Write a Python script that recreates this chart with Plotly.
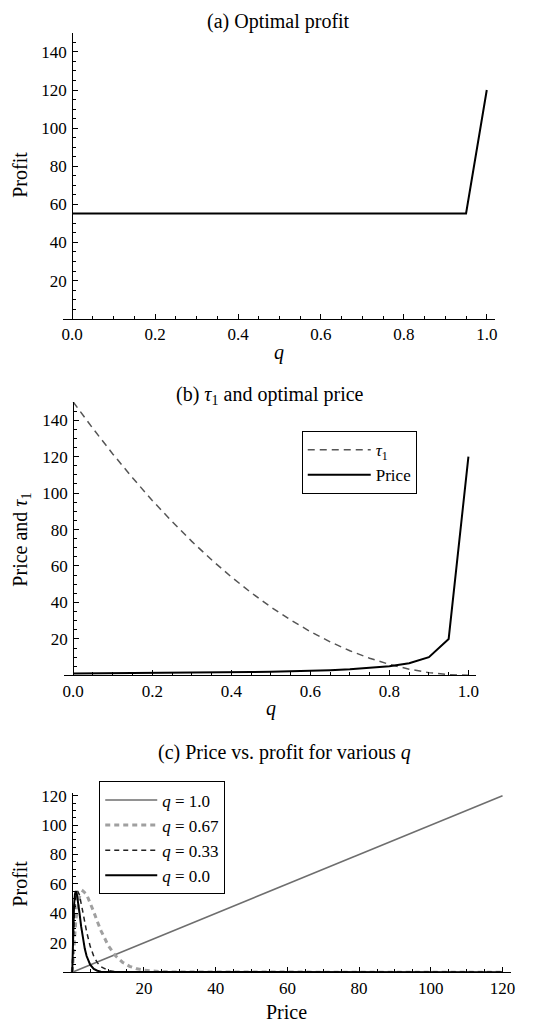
import plotly.graph_objects as go

W, H = 559, 1025
FONT = "Liberation Serif"

# ---------------- data ----------------
# (a) optimal profit vs q
q_grid = [0.0, 0.05, 0.1, 0.15, 0.2, 0.25, 0.3, 0.35, 0.4, 0.45, 0.5,
          0.55, 0.6, 0.65, 0.7, 0.75, 0.8, 0.85, 0.9, 0.95, 1.0]
opt_profit = [55.2, 55.2, 55.2, 55.2, 55.2, 55.2, 55.2, 55.2, 55.2, 55.2, 55.2,
              55.2, 55.2, 55.2, 55.2, 55.2, 55.2, 55.2, 55.2, 55.2, 120.0]

# (b) tau1 and optimal price vs q
tau1 = [150.0, 135.4, 121.5, 108.4, 96.0, 84.4, 73.5, 63.4, 54.0, 45.4, 37.5,
        30.4, 24.0, 18.4, 13.5, 9.4, 6.0, 3.4, 1.5, 0.4, 0.0]
opt_price = [1.0, 1.05, 1.11, 1.18, 1.25, 1.33, 1.43, 1.54, 1.67, 1.82, 2.0,
             2.22, 2.5, 2.86, 3.33, 4.0, 5.0, 6.67, 10.0, 20.0, 120.0]

# (c) price vs profit for various q
price_q100 = [0, 120]
profit_q100 = [0, 120]
price_q067 = [0, 0.5, 1, 2, 3, 4, 5, 6, 7, 8, 10, 12, 14, 16, 18, 20, 25, 30, 120]
profit_q067 = [0, 21.0, 35.6, 51.2, 55.2, 52.9, 47.5, 41.0, 34.4, 28.3, 18.3,
               11.3, 6.8, 4.0, 2.3, 1.4, 0.3, 0.1, 0]
price_q033 = [0, 0.25, 0.5, 1, 1.5, 2, 2.5, 3, 4, 5, 6, 7, 8, 10, 12, 15, 120]
profit_q033 = [0, 21.3, 35.9, 51.4, 55.2, 52.6, 47.1, 40.4, 27.6, 17.6, 10.8,
               6.5, 3.8, 1.2, 0.4, 0.1, 0]
price_q000 = [0, 0.25, 0.5, 0.75, 1, 1.25, 1.5, 2, 2.5, 3, 3.5, 4, 5, 6, 7, 8, 10, 120]
profit_q000 = [0, 29.2, 45.5, 53.1, 55.2, 53.7, 50.2, 40.6, 30.8, 22.4, 15.9,
               11.0, 5.1, 2.2, 1.0, 0.4, 0.1, 0]

q_ticks = [0.0, 0.2, 0.4, 0.6, 0.8, 1.0]
q_ticktext = ["0.0", "0.2", "0.4", "0.6", "0.8", "1.0"]
y_ticks_ab = [20, 40, 60, 80, 100, 120, 140]
price_ticks = [20, 40, 60, 80, 100, 120]
y_ticks_c = [20, 40, 60, 80, 100, 120]

# ---------------- helpers ----------------
def px(x):
    return x / W

def py(y):
    return 1 - y / H

tickfont = dict(family=FONT, size=17, color="black")

def xaxis_cfg(dom, rng, tickvals, ticktext, minor_dtick, yname):
    return dict(domain=[px(dom[0]), px(dom[1])], range=rng, anchor=yname,
                showline=True, linecolor="black", linewidth=1,
                ticks="inside", ticklen=5, tickwidth=1, tickcolor="black",
                tickmode="array", tickvals=tickvals, ticktext=ticktext,
                minor=dict(ticks="inside", ticklen=3, tickwidth=1, tickcolor="black",
                           tickmode="linear", tick0=0, dtick=minor_dtick, showgrid=False),
                showgrid=False, zeroline=False, tickfont=tickfont,
                ticklabelstandoff=0, fixedrange=True)

def yaxis_cfg(dom, rng, tickvals, pos):
    return dict(domain=[py(dom[1]), py(dom[0])], range=rng, anchor="free",
                position=px(pos),
                showline=True, linecolor="black", linewidth=1,
                ticks="inside", ticklen=5, tickwidth=1, tickcolor="black",
                tickmode="array", tickvals=tickvals,
                minor=dict(ticks="inside", ticklen=3, tickwidth=1, tickcolor="black",
                           tickmode="linear", tick0=0, dtick=5, showgrid=False),
                showgrid=False, zeroline=False, tickfont=tickfont,
                ticklabelstandoff=2, fixedrange=True)

fig = go.Figure()

# (a)
fig.add_trace(go.Scatter(x=q_grid, y=opt_profit, mode="lines",
                         line=dict(color="black", width=2), showlegend=False,
                         xaxis="x", yaxis="y"))
# (b)
fig.add_trace(go.Scatter(x=q_grid, y=tau1, mode="lines", name="<i>τ</i><sub>1</sub>",
                         line=dict(color="#555555", width=1.5, dash="7px,5px"),
                         xaxis="x2", yaxis="y2", legend="legend"))
fig.add_trace(go.Scatter(x=q_grid, y=opt_price, mode="lines", name="Price",
                         line=dict(color="black", width=2),
                         xaxis="x2", yaxis="y2", legend="legend"))
# (c)
fig.add_trace(go.Scatter(x=price_q100, y=profit_q100, mode="lines", name="<i>q</i> = 1.0",
                         line=dict(color="#6e6e6e", width=1.5),
                         xaxis="x3", yaxis="y3", legend="legend2"))
fig.add_trace(go.Scatter(x=price_q067, y=profit_q067, mode="lines", name="<i>q</i> = 0.67",
                         line=dict(color="#a0a0a0", width=3, dash="5px,4px"),
                         xaxis="x3", yaxis="y3", legend="legend2"))
fig.add_trace(go.Scatter(x=price_q033, y=profit_q033, mode="lines", name="<i>q</i> = 0.33",
                         line=dict(color="#222222", width=1.5, dash="5px,4px"),
                         xaxis="x3", yaxis="y3", legend="legend2"))
fig.add_trace(go.Scatter(x=price_q000, y=profit_q000, mode="lines", name="<i>q</i> = 0.0",
                         line=dict(color="black", width=2),
                         xaxis="x3", yaxis="y3", legend="legend2"))

legend_common = dict(bordercolor="black", borderwidth=1, bgcolor="white",
                     font=dict(family=FONT, size=17, color="black"),
                     xanchor="left", yanchor="top", tracegroupgap=0)

fig.update_layout(
    width=W, height=H,
    margin=dict(l=0, r=0, t=0, b=0),
    paper_bgcolor="white", plot_bgcolor="white",
    font=dict(family=FONT, size=17, color="black"),
    xaxis=xaxis_cfg((62, 498), [-0.0215, 1.019], q_ticks, q_ticktext, 0.05, "y"),
    yaxis=yaxis_cfg((27, 314.5), [0, 150], y_ticks_ab, 71),
    xaxis2=xaxis_cfg((63, 479), [-0.0225, 1.0188], q_ticks, q_ticktext, 0.05, "y2"),
    yaxis2=yaxis_cfg((398.3, 673.3), [0, 150], y_ticks_ab, 72),
    xaxis3=xaxis_cfg((61.7, 515), [-2.57, 122.5], price_ticks,
                     [str(v) for v in price_ticks], 5, "y3"),
    yaxis3=yaxis_cfg((791.7, 971.9), [0, 121.8], y_ticks_c, 71),
    legend=dict(x=px(303), y=py(427.7), itemwidth=63, **legend_common),
    legend2=dict(x=px(98.3), y=py(780), itemwidth=52, **legend_common),
)

def note(text, x, y, size=20, angle=0):
    fig.add_annotation(text=text, x=px(x), y=py(y), xref="paper", yref="paper",
                       showarrow=False, xanchor="center", yanchor="middle",
                       textangle=angle, font=dict(family=FONT, size=size, color="black"))

note("(a) Optimal profit", 280, 16)
note("<i>q</i>", 280.5, 349)
note("Profit", 18, 170, angle=-90)
note("(b) <i>τ</i><sub>1</sub> and optimal price", 271, 392)
note("<i>q</i>", 272, 707)
note("Price and <i>τ</i><sub>1</sub>", 20, 537, angle=-90)
note("(c) Price vs. profit for various <i>q</i>", 286, 751)
note("Price", 288, 1012)
note("Profit", 18, 883, angle=-90)

fig.write_html("out.html",
               config={"displayModeBar": False},
               post_script="document.body.style.margin='0px';document.body.style.overflow='hidden';")
